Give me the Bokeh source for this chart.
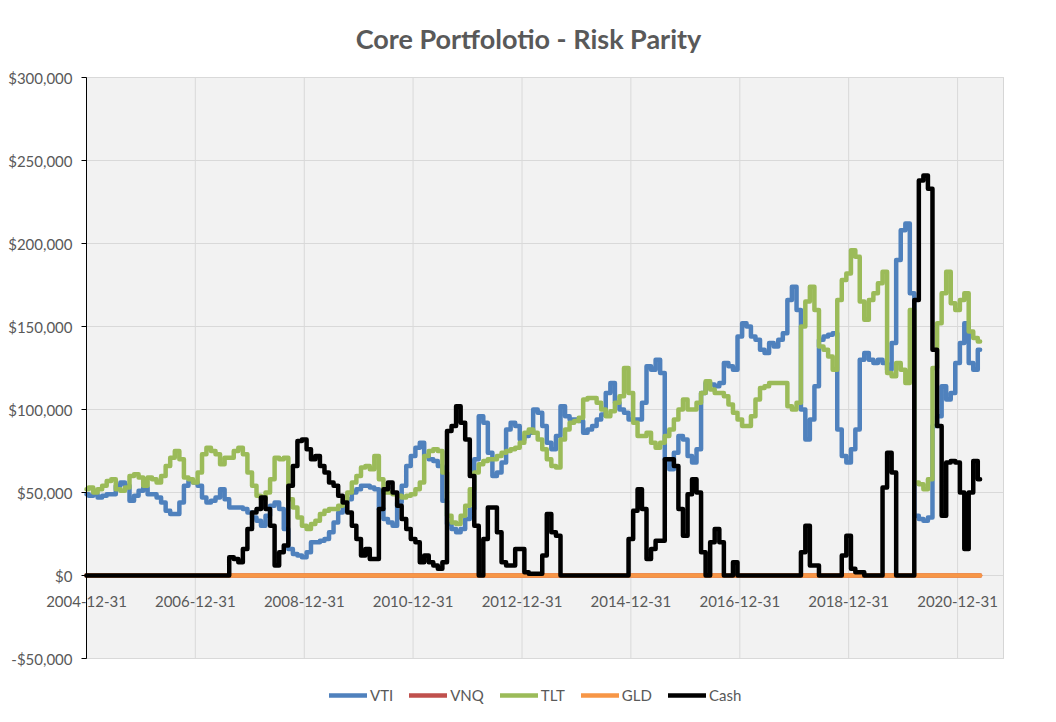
import pandas as pd
from bokeh.plotting import figure
from bokeh.models import (Range1d, FixedTicker, NumeralTickFormatter, Legend, LegendItem,
                          DatetimeTickFormatter, BoxAnnotation, Label)
from bokeh.embed import file_html
from bokeh.resources import INLINE

# ---------------- data (values in $ thousands, monthly, from 2004-12-31) ----------------
START = "2004-12-31"

VTI_K = [
    49, 48, 49, 47, 48, 49, 49, 54, 56, 54,
    45, 48, 51, 53, 49, 49, 47, 44, 39, 37,
    37, 44, 54, 57, 56, 54, 47, 44, 45, 47,
    52, 46, 41, 41, 41, 40, 38, 35, 33, 30,
    36, 42, 44, 40, 28, 16, 13, 12, 11, 14,
    20, 20, 21, 22, 26, 32, 38, 44, 46, 50,
    52, 54, 54, 53, 52, 40, 34, 32, 30, 44,
    54, 66, 72, 77, 80, 72, 70, 69, 66, 45,
    31, 28, 26, 28, 34, 40, 70, 96, 92, 74,
    60, 62, 68, 88, 92, 90, 82, 84, 86, 100,
    98, 90, 80, 76, 84, 102, 96, 94, 94, 93,
    86, 88, 90, 94, 97, 110, 116, 104, 100, 98,
    94, 94, 94, 104, 126, 124, 130, 122, 70, 64,
    74, 84, 82, 72, 68, 76, 110, 116, 115, 114,
    116, 128, 126, 124, 144, 152, 150, 144, 142, 136,
    134, 140, 138, 142, 146, 166, 174, 160, 100, 82,
    94, 114, 142, 144, 145, 146, 88, 72, 68, 76,
    88, 130, 134, 130, 128, 130, 128, 124, 140, 190,
    208, 212, 170, 36, 34, 33, 35, 90, 96, 114,
    106, 110, 128, 140, 152, 128, 124, 136,
]

TLT_K = [
    52, 53, 50, 52, 54, 57, 58, 52, 51, 53,
    60, 61, 59, 54, 59, 58, 56, 60, 66, 71,
    75, 70, 59, 58, 56, 62, 73, 77, 75, 73,
    67, 71, 71, 75, 77, 73, 62, 54, 48, 46,
    50, 58, 71, 70, 71, 46, 41, 35, 30, 28,
    31, 33, 37, 39, 40, 40, 42, 46, 50, 56,
    60, 65, 66, 64, 72, 58, 50, 50, 49, 48,
    47, 48, 49, 52, 56, 72, 75, 76, 75, 62,
    36, 32, 31, 36, 42, 52, 62, 67, 69, 70,
    70, 72, 74, 75, 76, 77, 80, 86, 88, 86,
    82, 76, 70, 66, 65, 82, 88, 92, 93, 95,
    106, 107, 107, 104, 100, 96, 99, 104, 108, 125,
    110, 92, 84, 84, 86, 80, 77, 80, 84, 88,
    94, 100, 106, 100, 100, 104, 110, 117, 112, 110,
    110, 108, 103, 98, 94, 90, 90, 96, 106, 113,
    114, 116, 116, 116, 116, 102, 100, 104, 150, 165,
    174, 160, 138, 136, 132, 124, 166, 178, 182, 196,
    192, 165, 154, 166, 170, 176, 183, 122, 120, 128,
    124, 116, 160, 56, 55, 52, 58, 125, 152, 170,
    183, 164, 160, 166, 170, 147, 143, 141,
]

CASH_K = [
    0, 0, 0, 0, 0, 0, 0, 0, 0, 0,
    0, 0, 0, 0, 0, 0, 0, 0, 0, 0,
    0, 0, 0, 0, 0, 0, 0, 0, 0, 0,
    0, 0, 11, 10, 8, 16, 28, 38, 40, 47,
    40, 30, 6, 14, 18, 54, 66, 81, 82, 76,
    70, 72, 66, 62, 56, 54, 48, 44, 38, 30,
    22, 12, 16, 10, 10, 40, 52, 56, 50, 42,
    34, 28, 22, 20, 8, 12, 8, 6, 4, 8,
    87, 90, 102, 92, 82, 60, 30, 0, 22, 41,
    41, 26, 8, 6, 6, 16, 16, 2, 1, 1,
    1, 12, 37, 26, 24, 0, 0, 0, 0, 0,
    0, 0, 0, 0, 0, 0, 0, 0, 0, 0,
    22, 39, 52, 40, 10, 16, 21, 21, 70, 70,
    66, 40, 24, 49, 58, 50, 14, 0, 20, 28,
    20, 0, 0, 8, 0, 0, 0, 0, 0, 0,
    0, 0, 0, 0, 0, 0, 0, 0, 14, 30,
    6, 6, 0, 0, 0, 0, 0, 12, 24, 4,
    2, 2, 0, 0, 0, 0, 53, 74, 62, 0,
    0, 0, 0, 166, 238, 241, 233, 136, 90, 36,
    68, 69, 68, 50, 16, 50, 69, 58,
]

VNQ_K = [
    0, 0, 0, 0, 0, 0, 0, 0, 0, 0, 0, 0, 0, 0, 0, 0, 0, 0, 0, 0,
    0, 0, 0, 0, 0, 0, 0, 0, 0, 0, 0, 0, 0, 0, 0, 0, 0, 0, 0, 0,
    0, 0, 0, 0, 0, 0, 0, 0, 0, 0, 0, 0, 0, 0, 0, 0, 0, 0, 0, 0,
    0, 0, 0, 0, 0, 0, 0, 0, 0, 0, 0, 0, 0, 0, 0, 0, 0, 0, 0, 0,
    0, 0, 0, 0, 0, 0, 0, 0, 0, 0, 0, 0, 0, 0, 0, 0, 0, 0, 0, 0,
    0, 0, 0, 0, 0, 0, 0, 0, 0, 0, 0, 0, 0, 0, 0, 0, 0, 0, 0, 0,
    0, 0, 0, 0, 0, 0, 0, 0, 0, 0, 0, 0, 0, 0, 0, 0, 0, 0, 0, 0,
    0, 0, 0, 0, 0, 0, 0, 0, 0, 0, 0, 0, 0, 0, 0, 0, 0, 0, 0, 0,
    0, 0, 0, 0, 0, 0, 0, 0, 0, 0, 0, 0, 0, 0, 0, 0, 0, 0, 0, 0,
    0, 0, 0, 0, 0, 0, 0, 0, 0, 0, 0, 0, 0, 0, 0, 0, 0, 0,
]
GLD_K = list(VNQ_K)

TITLE = "Core Portfolotio - Risk Parity"
X_TICK_LABELS = ["2004-12-31", "2006-12-31", "2008-12-31", "2010-12-31",
                 "2012-12-31", "2014-12-31", "2016-12-31", "2018-12-31", "2020-12-31"]
Y_TICKS = [-50000, 0, 50000, 100000, 150000, 200000, 250000, 300000]
X_MIN, X_MAX = "2004-12-31", "2021-11-04"   # horizontal axis bounds
Y_MIN, Y_MAX = -50000, 300000               # vertical axis bounds

SERIES = [("VTI", VTI_K, "#4F81BD"), ("VNQ", VNQ_K, "#C0504D"), ("TLT", TLT_K, "#9BBB59"),
          ("GLD", GLD_K, "#F79646"), ("Cash", CASH_K, "#000000")]

# ---------------- layout (pixels in the 1056x722 page) ----------------
W, H = 1056, 722
PA_L, PA_R, PA_T, PA_B = 86, 1003, 77, 658      # plot-area box
FONT = "Lato"
GREY = "#595959"


def ms(s):
    return pd.Timestamp(s).value / 1e6


# the frame covers the whole page (except a blank right margin) so that the
# Excel-like outside texts are not clipped; ranges are set so that the axis
# bounds land on the plot-area box.
t0, t1 = ms(X_MIN), ms(X_MAX)
px_per_ms = (PA_R - PA_L) / (t1 - t0)
x_start = t0 - PA_L / px_per_ms
x_end = t1
px_per_val = (PA_B - PA_T) / (Y_MAX - Y_MIN)
y_end = Y_MAX + PA_T / px_per_val
y_start = Y_MIN - (H - PA_B) / px_per_val

dates = pd.date_range(START, periods=len(VTI_K), freq="ME")

p = figure(width=W, height=H, x_axis_type="datetime",
           x_range=Range1d(x_start, x_end), y_range=Range1d(y_start, y_end),
           output_backend="svg", toolbar_location=None,
           min_border_left=0, min_border_right=W - PA_R, min_border_top=0, min_border_bottom=0)
p.title.visible = False
p.background_fill_color = "white"
p.border_fill_color = "white"
p.outline_line_color = None
p.xgrid.visible = False
p.ygrid.visible = False

# plot area (grey, black border)
p.add_layout(BoxAnnotation(left=t0, right=t1, bottom=Y_MIN, top=Y_MAX,
                           fill_color="#F2F2F2", fill_alpha=1.0,
                           line_color="black", line_width=1, level="underlay"))

# gridlines
p.segment(x0=[t0] * len(Y_TICKS), x1=[t1] * len(Y_TICKS), y0=Y_TICKS, y1=Y_TICKS,
          line_color="#D9D9D9", line_width=1)
tick_ms = [ms(s) for s in X_TICK_LABELS]
p.segment(x0=tick_ms, x1=tick_ms, y0=[Y_MIN] * len(tick_ms), y1=[Y_MAX] * len(tick_ms),
          line_color="#D9D9D9", line_width=1)

# y axis at the left edge of the plot area
p.yaxis.fixed_location = t0
p.yaxis.bounds = (Y_MIN, Y_MAX)
p.yaxis.ticker = FixedTicker(ticks=Y_TICKS)
p.yaxis.formatter = NumeralTickFormatter(format="$0,0")
p.yaxis.major_label_text_font = FONT
p.yaxis.major_label_text_font_size = "15px"
p.yaxis.major_label_text_color = GREY
p.yaxis.axis_line_color = "black"
p.yaxis.major_tick_line_color = "black"
p.yaxis.major_tick_out = 5
p.yaxis.major_tick_in = 0
p.yaxis.minor_tick_line_color = None
p.yaxis.major_label_standoff = 9

# x axis crossing at y = 0
p.xaxis.fixed_location = 0
p.xaxis.ticker = FixedTicker(ticks=tick_ms)
p.xaxis.formatter = DatetimeTickFormatter(
    milliseconds="%Y-%m-%d", seconds="%Y-%m-%d", minsec="%Y-%m-%d", minutes="%Y-%m-%d",
    hourmin="%Y-%m-%d", hours="%Y-%m-%d", days="%Y-%m-%d", months="%Y-%m-%d", years="%Y-%m-%d")
p.xaxis.major_label_text_font = FONT
p.xaxis.major_label_text_font_size = "15px"
p.xaxis.major_label_text_color = GREY
p.xaxis.axis_line_color = None
p.xaxis.major_tick_line_color = None
p.xaxis.minor_tick_line_color = None
p.xaxis.major_tick_out = 0
p.xaxis.major_tick_in = 0
p.xaxis.major_label_standoff = 20

renderers = []
for name, vals, col in SERIES:
    r = p.step(dates, [v * 1000 for v in vals], mode="center", line_color=col, line_width=4.5,
               line_join="round", line_cap="round")
    renderers.append((name, r))

# title
title_x = x_start + 528 / px_per_ms
title_y = y_end - 38 / px_per_val
p.add_layout(Label(x=title_x, y=title_y, text=TITLE, text_align="center",
                   text_baseline="middle", text_font=FONT, text_font_size="27px",
                   text_font_style="bold", text_color=GREY))

legend = Legend(items=[LegendItem(label=n, renderers=[r]) for n, r in renderers],
                orientation="horizontal", location=(329, 18),
                label_text_font=FONT, label_text_font_size="15px", label_text_color=GREY,
                glyph_width=38, glyph_height=14, label_standoff=3, spacing=16,
                padding=0, margin=0, border_line_color=None, background_fill_alpha=0)
p.add_layout(legend)

open("out.html", "w").write(file_html(p, INLINE))
